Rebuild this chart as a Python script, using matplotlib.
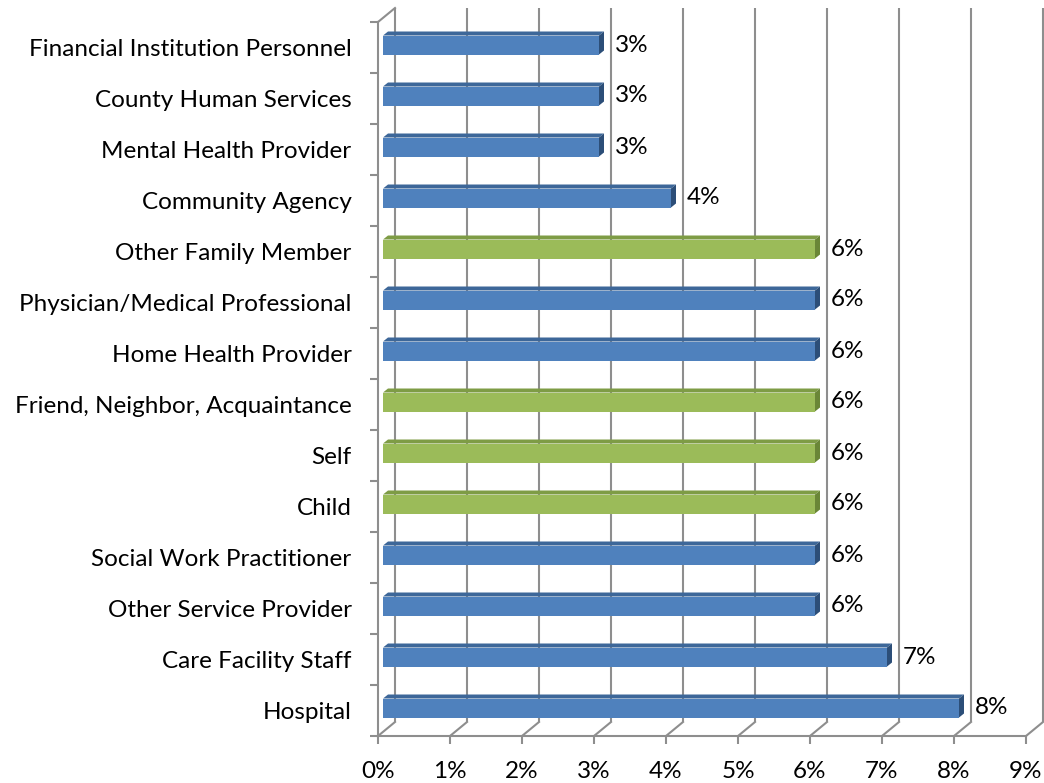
import numpy as np
import matplotlib.pyplot as plt
from matplotlib.patches import Polygon

plt.rcParams['font.family'] = ['Lato', 'DejaVu Sans']

# categories listed bottom to top
categories = ['Hospital', 'Care Facility Staff', 'Other Service Provider',
              'Social Work Practitioner', 'Child', 'Self',
              'Friend, Neighbor, Acquaintance', 'Home Health Provider',
              'Physician/Medical Professional', 'Other Family Member',
              'Community Agency', 'Mental Health Provider',
              'County Human Services', 'Financial Institution Personnel']
values = [8, 7, 6, 6, 6, 6, 6, 6, 6, 6, 4, 3, 3, 3]
groups = ['b', 'b', 'b', 'b', 'g', 'g', 'g', 'b', 'b', 'g', 'b', 'b', 'b', 'b']
xticks = list(range(10))

colors = {'b': ('#4F81BD', '#3D6799', '#2C4E78'),
          'g': ('#9BBB59', '#7E9C45', '#6A8637')}
grid_col = '#8E8E8E'
fs = 17.5

W, H = 1044, 783
fig = plt.figure(figsize=(W / 100, H / 100), dpi=100)
ax = fig.add_axes([378 / W, (H - 736) / H, 648 / W, 714 / H])
ax.set_xlim(0, 9)
ax.set_ylim(-0.5, 13.5)

# pixel -> data scale
px_x = 9 / 648
px_y = 14 / 714

# oblique offset of the back wall
gx, gy = 17 * px_x, 14 * px_y
for k in xticks:
    ax.plot([k + gx, k + gx], [-0.5 + gy, 13.5 + gy], color=grid_col,
            lw=1.5, zorder=1, clip_on=False, solid_capstyle='butt')
    ax.plot([k, k + gx], [-0.5, -0.5 + gy], color=grid_col, lw=1.5,
            zorder=1, clip_on=False)
ax.plot([0, gx], [13.5, 13.5 + gy], color=grid_col, lw=1.5, zorder=1,
        clip_on=False)

# bars: front face, top face, right side face
sx, sy = 5 * px_x, 2.5 * px_y
hh = 9.5 * px_y
dx, dy = 5 * px_x, 4 * px_y
for i, (v, g) in enumerate(zip(values, groups)):
    front, top, side = colors[g]
    x0, x1 = sx, v + sx
    y0, y1 = i + sy - hh, i + sy + hh
    ax.add_patch(Polygon([(x0, y1), (x1, y1), (x1 + dx, y1 + dy), (x0 + dx, y1 + dy)],
                         closed=True, fc=top, ec='none', zorder=3))
    ax.add_patch(Polygon([(x1, y0), (x1 + dx, y0 + dy), (x1 + dx, y1 + dy), (x1, y1)],
                         closed=True, fc=side, ec='none', zorder=3))
    ax.add_patch(Polygon([(x0, y0), (x1, y0), (x1, y1), (x0, y1)],
                         closed=True, fc=front, ec='none', zorder=4))
    ax.text(v + sx + 16 * px_x, i + sy, f'{v}%', va='center', ha='left',
            fontsize=fs, color='black', zorder=5)

for s in ['top', 'right']:
    ax.spines[s].set_visible(False)
for s in ['left', 'bottom']:
    ax.spines[s].set_color(grid_col)
    ax.spines[s].set_linewidth(1.5)

ax.set_xticks(xticks)
ax.set_xticklabels([f'{k}%' for k in xticks], fontsize=fs)
ax.tick_params(axis='x', length=6, width=1.5, color=grid_col, pad=12)
ax.set_yticks(range(len(categories)))
ax.set_yticklabels(categories, fontsize=fs)
ax.tick_params(axis='y', which='major', length=0, pad=19)
ax.set_yticks(np.arange(-0.5, 14, 1), minor=True)
ax.tick_params(axis='y', which='minor', length=6, width=1.5, color=grid_col)
ax.patch.set_visible(False)

fig.savefig('out.png', dpi=100)
